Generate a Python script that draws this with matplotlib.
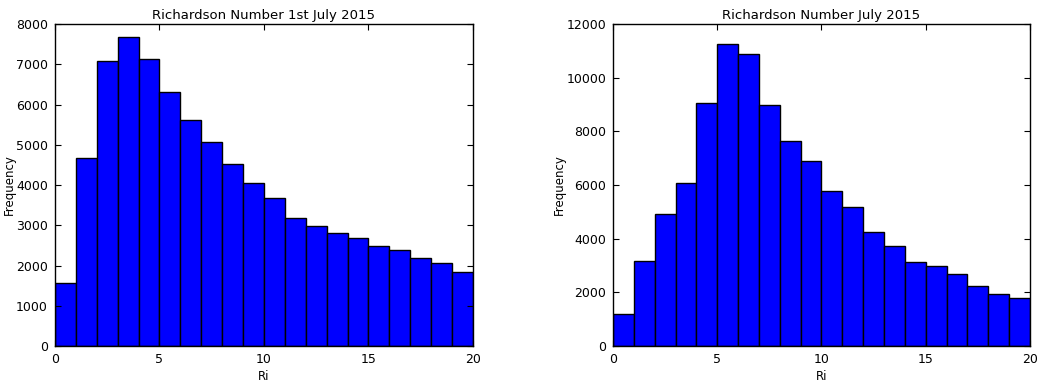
import matplotlib
matplotlib.use('Agg')
from matplotlib import pyplot as plt
import numpy as np

bin_edges = np.arange(0, 21, 1)
bin_centers = bin_edges[:-1] + 0.5

freq_1st = [1570, 4660, 7090, 7680, 7125, 6315, 5610, 5065, 4530, 4058,
            3680, 3175, 2985, 2810, 2695, 2490, 2390, 2175, 2058, 1843]
freq_month = [1200, 3185, 4935, 6085, 9040, 11255, 10885, 8975, 7650, 6915,
              5790, 5180, 4240, 3730, 3135, 3000, 2690, 2255, 1935, 1785]

titles = ['Richardson Number 1st July 2015', 'Richardson Number July 2015']
ylims = [8000, 12000]

fig = plt.figure(figsize=(10.45, 3.86), dpi=100)
ax1 = fig.add_axes([0.0526, 0.1036, 0.4, 0.834])
ax2 = fig.add_axes([0.5866, 0.1036, 0.399, 0.834])

for ax, data, title, ytop in zip([ax1, ax2], [freq_1st, freq_month], titles, ylims):
    ax.hist(bin_centers, bins=bin_edges, weights=data, color='b',
            edgecolor='black', linewidth=1)
    ax.set_xlim(0, 20)
    ax.set_ylim(0, ytop)
    ax.set_xticks([0, 5, 10, 15, 20])
    ax.set_title(title, fontsize=9.5, pad=4)
    ax.set_xlabel('Ri', fontsize=8.5, labelpad=3)
    ax.set_ylabel('Frequency', fontsize=8.5, labelpad=0)
    ax.tick_params(direction='in', top=True, right=True, labelsize=9,
                   length=4, pad=5)
    for s in ax.spines.values():
        s.set_linewidth(1)

fig.savefig('out.png', dpi=100, facecolor='white')
